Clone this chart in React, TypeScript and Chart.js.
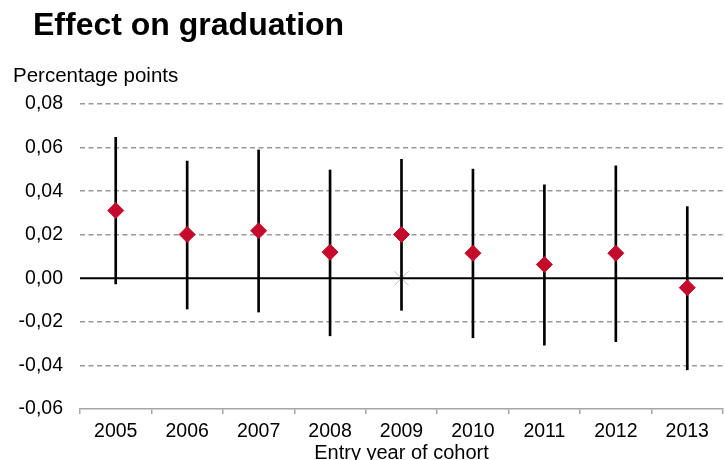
import React, { useEffect, useRef } from "react";
import { Chart, registerables } from "chart.js";

Chart.register(...registerables);

const categories = ["2005", "2006", "2007", "2008", "2009", "2010", "2011", "2012", "2013"];
const estimates = [0.0311, 0.0201, 0.0218, 0.012, 0.0201, 0.0115, 0.0063, 0.0115, -0.0043];
const lowerBounds = [-0.0026, -0.0141, -0.0155, -0.0264, -0.0147, -0.0273, -0.0307, -0.0291, -0.042];
const upperBounds = [0.0647, 0.0538, 0.0589, 0.0497, 0.0546, 0.0501, 0.0429, 0.0516, 0.0329];
const referenceCategory = "2009";
const referenceValue = 0;

const titleText = "Effect on graduation";
const yAxisLabel = "Percentage points";
const xAxisLabel = "Entry year of cohort";
const yMin = -0.06;
const yMax = 0.08;
const yStep = 0.02;

const FONT = "'Liberation Sans', Arial, Helvetica, sans-serif";

export default function App() {
  const ref = useRef<HTMLCanvasElement | null>(null);

  useEffect(() => {
    if (!ref.current) return;
    Chart.defaults.font.family = FONT;
    Chart.defaults.color = "#000";

    const textPlugin = {
      id: "textPlugin",
      afterDraw(chart: any) {
        const ctx = chart.ctx;
        ctx.save();
        ctx.fillStyle = "#000";
        ctx.textAlign = "left";
        ctx.textBaseline = "alphabetic";
        ctx.font = `bold 32px ${FONT}`;
        ctx.fillText(titleText, 33, 35);
        ctx.font = `20.5px ${FONT}`;
        ctx.fillText(yAxisLabel, 13, 82);
        ctx.restore();
      },
    };

    const zeroLine = {
      id: "zeroLine",
      beforeDatasetsDraw(chart: any) {
        const { ctx, chartArea, scales } = chart;
        const y = scales.y.getPixelForValue(0);
        ctx.save();
        ctx.strokeStyle = "#000";
        ctx.lineWidth = 2;
        ctx.beginPath();
        ctx.moveTo(chartArea.left, y);
        ctx.lineTo(chartArea.right, y);
        ctx.stroke();
        ctx.restore();
      },
    };

    const chart = new Chart(ref.current, {
      type: "bar",
      data: {
        labels: categories,
        datasets: [
          {
            type: "scatter" as any,
            label: "Reference",
            data: categories.map((c) => (c === referenceCategory ? referenceValue : null)) as any,
            pointStyle: "crossRot",
            pointRadius: 10,
            borderColor: "#c0c0c0",
            backgroundColor: "#c0c0c0",
            pointBorderWidth: 1,
            showLine: false,
            order: 3,
          } as any,
          {
            type: "bar",
            label: "CI",
            data: lowerBounds.map((lo, i) => [lo, upperBounds[i]]) as any,
            backgroundColor: "#000",
            barThickness: 2,
            order: 2,
          },
          {
            type: "scatter" as any,
            label: "Estimate",
            data: estimates as any,
            pointStyle: "rectRot",
            pointRadius: 8,
            pointBorderWidth: 1,
            backgroundColor: "#c50b2b",
            borderColor: "#c50b2b",
            showLine: false,
            order: 1,
          } as any,
        ],
      },
      options: {
        animation: false,
        responsive: false,
        maintainAspectRatio: false,
        layout: { autoPadding: false, padding: { top: 104, right: 2, left: 0, bottom: 0 } },
        plugins: {
          legend: { display: false },
          tooltip: { enabled: false },
          title: { display: false },
        },
        scales: {
          x: {
            type: "category",
            offset: true,
            afterFit: (s: any) => {
              s.height = 51;
              s.paddingLeft = 0;
              s.paddingRight = 0;
            },
            grid: {
              display: true,
              offset: true,
              drawOnChartArea: false,
              drawTicks: true,
              tickLength: 5,
              color: "#a6a6a6",
              lineWidth: 1.5,
            },
            border: { display: true, color: "#a6a6a6", width: 1.5 },
            ticks: {
              color: "#000",
              font: { size: 19.5, family: FONT },
              padding: 6,
              maxRotation: 0,
              autoSkip: false,
            },
            title: {
              display: true,
              text: xAxisLabel,
              color: "#000",
              font: { size: 20, family: FONT, lineHeight: 1 },
              padding: { top: 0, bottom: -3 },
            },
          },
          y: {
            type: "linear",
            min: yMin,
            max: yMax,
            afterFit: (s: any) => {
              s.width = 80;
            },
            grid: {
              drawTicks: false,
              color: (ctx: any) => {
                const v = ctx.tick ? ctx.tick.value : 0;
                if (Math.abs(v) < 1e-9 || Math.abs(v - yMin) < 1e-9) return "rgba(0,0,0,0)";
                return "#9a9a9a";
              },
              lineWidth: 1.5,
            },
            border: { display: false, dash: [5, 3.5] },
            ticks: {
              stepSize: yStep,
              color: "#000",
              font: { size: 19.5, family: FONT },
              padding: 17,
              callback: (v: any) => Number(v).toFixed(2).replace(".", ","),
            },
          },
        },
      } as any,
      plugins: [zeroLine, textPlugin],
    });
    return () => chart.destroy();
  }, []);

  return (
    <div style={{ position: "absolute", left: 0, top: 0, width: 725, height: 460, background: "#fff" }}>
      <canvas ref={ref} width={725} height={460} style={{ width: 725, height: 460, display: "block" }} />
    </div>
  );
}
